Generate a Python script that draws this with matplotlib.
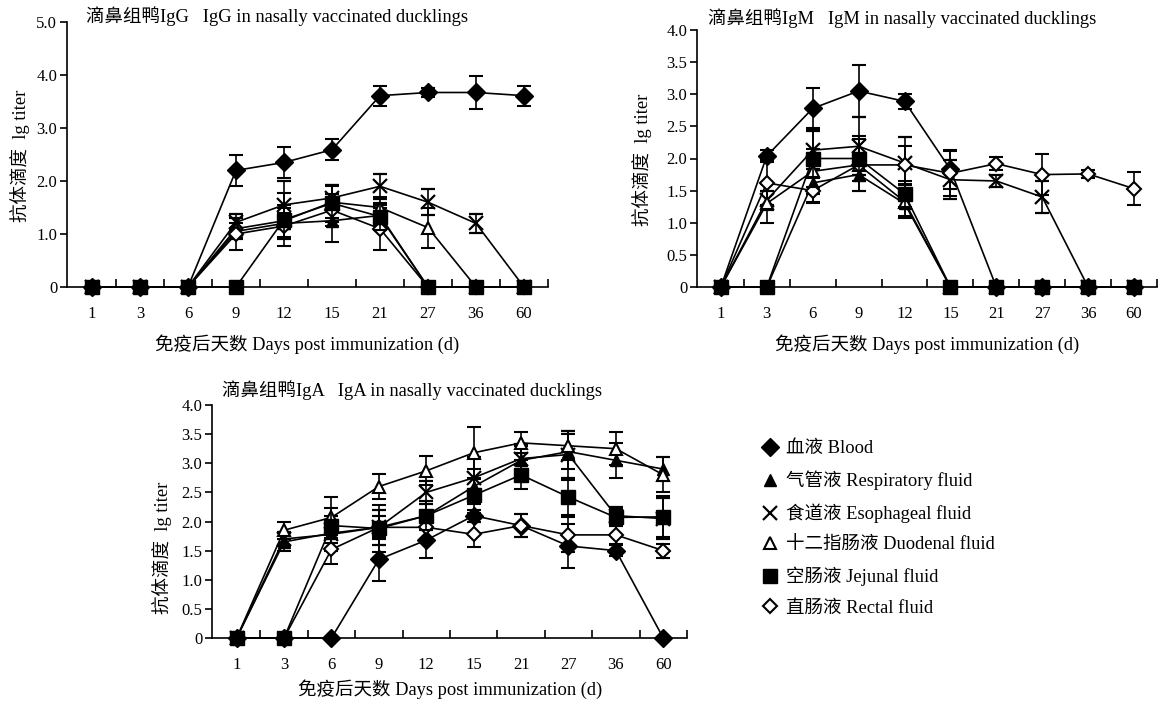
import matplotlib
matplotlib.use("Agg")
import matplotlib.pyplot as plt
from matplotlib.lines import Line2D
from matplotlib.ticker import FixedLocator

plt.rcParams['font.family'] = ['Liberation Serif', 'Noto Sans CJK SC']

days = ['1', '3', '6', '9', '12', '15', '21', '27', '36', '60']

# IgG
blood_g = [0, 0, 0, 2.20, 2.35, 2.59, 3.61, 3.67, 3.67, 3.61]
blood_g_err = [0, 0, 0, 0.29, 0.30, 0.20, 0.19, 0.08, 0.32, 0.19]
resp_g = [0, 0, 0, 1.05, 1.20, 1.25, 1.35, 0, 0, 0]
resp_g_err = [0, 0, 0, 0.15, 0.30, 0.40, 0.20, 0, 0, 0]
esoph_g = [0, 0, 0, 1.22, 1.55, 1.68, 1.90, 1.60, 1.20, 0]
esoph_g_err = [0, 0, 0, 0.15, 0.45, 0.25, 0.24, 0.25, 0.18, 0]
duod_g = [0, 0, 0, 1.10, 1.25, 1.60, 1.50, 1.12, 0, 0]
duod_g_err = [0, 0, 0, 0.20, 0.30, 0.30, 0.20, 0.38, 0, 0]
jej_g = [0, 0, 0, 0, 1.27, 1.58, 1.33, 0, 0, 0]
jej_g_err = [0, 0, 0, 0, 0.50, 0.35, 0.25, 0, 0, 0]
rect_g = [0, 0, 0, 1.00, 1.15, 1.45, 1.10, 0, 0, 0]
rect_g_err = [0, 0, 0, 0.30, 0.25, 0.30, 0.40, 0, 0, 0]

# IgM
blood_m = [0, 2.04, 2.78, 3.05, 2.89, 1.83, 0, 0, 0, 0]
blood_m_err = [0, 0.10, 0.31, 0.40, 0.12, 0.30, 0, 0, 0, 0]
resp_m = [0, 0, 1.62, 1.75, 1.30, 0, 0, 0, 0, 0]
resp_m_err = [0, 0, 0.30, 0.25, 0.20, 0, 0, 0, 0, 0]
esoph_m = [0, 1.35, 2.13, 2.19, 1.93, 1.67, 1.65, 1.40, 0, 0]
esoph_m_err = [0, 0.15, 0.30, 0.45, 0.40, 0.30, 0.10, 0.25, 0, 0]
duod_m = [0, 1.30, 1.80, 1.90, 1.33, 0, 0, 0, 0, 0]
duod_m_err = [0, 0.30, 0.35, 0.40, 0.25, 0, 0, 0, 0, 0]
jej_m = [0, 0, 2.00, 2.00, 1.45, 0, 0, 0, 0, 0]
jej_m_err = [0, 0, 0.45, 0.35, 0.20, 0, 0, 0, 0, 0]
rect_m = [0, 1.62, 1.50, 1.90, 1.90, 1.77, 1.92, 1.75, 1.76, 1.53]
rect_m_err = [0, 0.35, 0.20, 0.15, 0.30, 0.35, 0.10, 0.32, 0.06, 0.26]

# IgA
blood_a = [0, 0, 0, 1.35, 1.68, 2.10, 1.93, 1.58, 1.50, 0]
blood_a_err = [0, 0, 0, 0.38, 0.30, 0.10, 0.20, 0.38, 0.10, 0]
resp_a = [0, 1.65, 1.80, 1.90, 2.10, 2.60, 3.05, 3.20, 3.05, 2.90]
resp_a_err = [0, 0.15, 0.30, 0.20, 0.25, 0.30, 0.25, 0.30, 0.30, 0.20]
esoph_a = [0, 1.70, 1.78, 1.90, 2.50, 2.75, 3.08, 3.15, 2.10, 2.05]
esoph_a_err = [0, 0.12, 0.25, 0.30, 0.20, 0.35, 0.25, 0.40, 0.15, 0.35]
duod_a = [0, 1.85, 2.07, 2.60, 2.87, 3.18, 3.35, 3.30, 3.25, 2.80]
duod_a_err = [0, 0.15, 0.35, 0.22, 0.25, 0.45, 0.18, 0.25, 0.28, 0.30]
jej_a = [0, 0, 1.93, 1.88, 2.10, 2.45, 2.80, 2.42, 2.07, 2.08]
jej_a_err = [0, 0, 0.30, 0.40, 0.25, 0.30, 0.25, 0.30, 0.15, 0.35]
rect_a = [0, 0, 1.52, 1.90, 1.90, 1.78, 1.93, 1.77, 1.77, 1.50]
rect_a_err = [0, 0, 0.25, 0.20, 0.20, 0.22, 0.20, 0.30, 0.15, 0.12]

names = ['血液 Blood', '气管液 Respiratory fluid', '食道液 Esophageal fluid',
         '十二指肠液 Duodenal fluid', '空肠液 Jejunal fluid', '直肠液 Rectal fluid']

styles = [
    dict(marker='D', ms=9, mfc='black', mec='black'),
    dict(marker='^', ms=9, mfc='black', mec='black'),
    dict(marker='x', ms=10, mfc='black', mec='black', mew=1.6),
    dict(marker='^', ms=9, mfc='white', mec='black', mew=1.5),
    dict(marker='s', ms=10, mfc='black', mec='black'),
    dict(marker='D', ms=7, mfc='white', mec='black', mew=1.5),
]
draw_order = [0, 1, 2, 3, 5, 4]

W, H = 1161, 709
fig = plt.figure(figsize=(W / 100, H / 100), dpi=100)


def px_axes(l, r, top, bot):
    return fig.add_axes([l / W, 1 - bot / H, (r - l) / W, (bot - top) / H])


def panel(ax, series, errs, ymax, ystep):
    x = list(range(len(days)))
    for i in draw_order:
        ax.errorbar(x, series[i], yerr=errs[i], color='black', lw=1.2,
                    elinewidth=1.2, capsize=5, capthick=1.5, clip_on=False,
                    zorder=3 + (2 if i == 4 else 0), **styles[i])
    ax.set_xlim(-0.52, 9.5)
    ax.set_ylim(0, ymax)
    ax.spines['top'].set_visible(False)
    ax.spines['right'].set_visible(False)
    ax.spines['left'].set_linewidth(1.2)
    ax.spines['bottom'].set_linewidth(1.2)
    ax.set_xticks(x)
    ax.set_xticklabels(days, fontsize=12)
    ax.xaxis.set_minor_locator(FixedLocator([i + 0.5 for i in x]))
    ax.tick_params(axis='x', which='major', length=0, pad=14)
    ax.tick_params(axis='x', which='minor', direction='in', length=6, width=1.2)
    n = int(round(ymax / ystep))
    yt = [k * ystep for k in range(n + 1)]
    ax.set_yticks(yt)
    ax.set_yticklabels(['0'] + ['%.1f' % v for v in yt[1:]], fontsize=12)
    ax.tick_params(axis='y', direction='out', length=5, width=1.2, pad=2)


title_kw = dict(fontsize=13.3, va='center', ha='left')
xl_kw = dict(fontsize=13.3, va='center', ha='center')
yl_kw = dict(fontsize=13.3, va='center', ha='center', rotation=90)

ax1 = px_axes(67, 548, 22, 287)
panel(ax1, [blood_g, resp_g, esoph_g, duod_g, jej_g, rect_g],
      [blood_g_err, resp_g_err, esoph_g_err, duod_g_err, jej_g_err, rect_g_err],
      5.0, 1.0)
fig.text(86 / W, 1 - 16 / H, '滴鼻组鸭IgG   IgG in nasally vaccinated ducklings', **title_kw)
fig.text(307 / W, 1 - 344 / H, '免疫后天数 Days post immunization (d)', **xl_kw)
fig.text(20 / W, 1 - 156 / H, '抗体滴度  lg titer', **yl_kw)

ax2 = px_axes(697, 1157, 30, 287)
panel(ax2, [blood_m, resp_m, esoph_m, duod_m, jej_m, rect_m],
      [blood_m_err, resp_m_err, esoph_m_err, duod_m_err, jej_m_err, rect_m_err],
      4.0, 0.5)
fig.text(708 / W, 1 - 18 / H, '滴鼻组鸭IgM   IgM in nasally vaccinated ducklings', **title_kw)
fig.text(927 / W, 1 - 344 / H, '免疫后天数 Days post immunization (d)', **xl_kw)
fig.text(642 / W, 1 - 160 / H, '抗体滴度  lg titer', **yl_kw)

ax3 = px_axes(212, 687, 405, 638)
panel(ax3, [blood_a, resp_a, esoph_a, duod_a, jej_a, rect_a],
      [blood_a_err, resp_a_err, esoph_a_err, duod_a_err, jej_a_err, rect_a_err],
      4.0, 0.5)
fig.text(222 / W, 1 - 390 / H, '滴鼻组鸭IgA   IgA in nasally vaccinated ducklings', **title_kw)
fig.text(450 / W, 1 - 689 / H, '免疫后天数 Days post immunization (d)', **xl_kw)
fig.text(162 / W, 1 - 548 / H, '抗体滴度  lg titer', **yl_kw)

handles = [Line2D([], [], ls='none', color='black', **styles[i]) for i in range(6)]
fig.legend(handles, names, loc='upper left', bbox_to_anchor=(752 / W, 1 - 433 / H),
           frameon=False, fontsize=13.3, labelspacing=0.72, handletextpad=0.25,
           handlelength=1.2, borderaxespad=0)

fig.savefig('out.png', dpi=100)
